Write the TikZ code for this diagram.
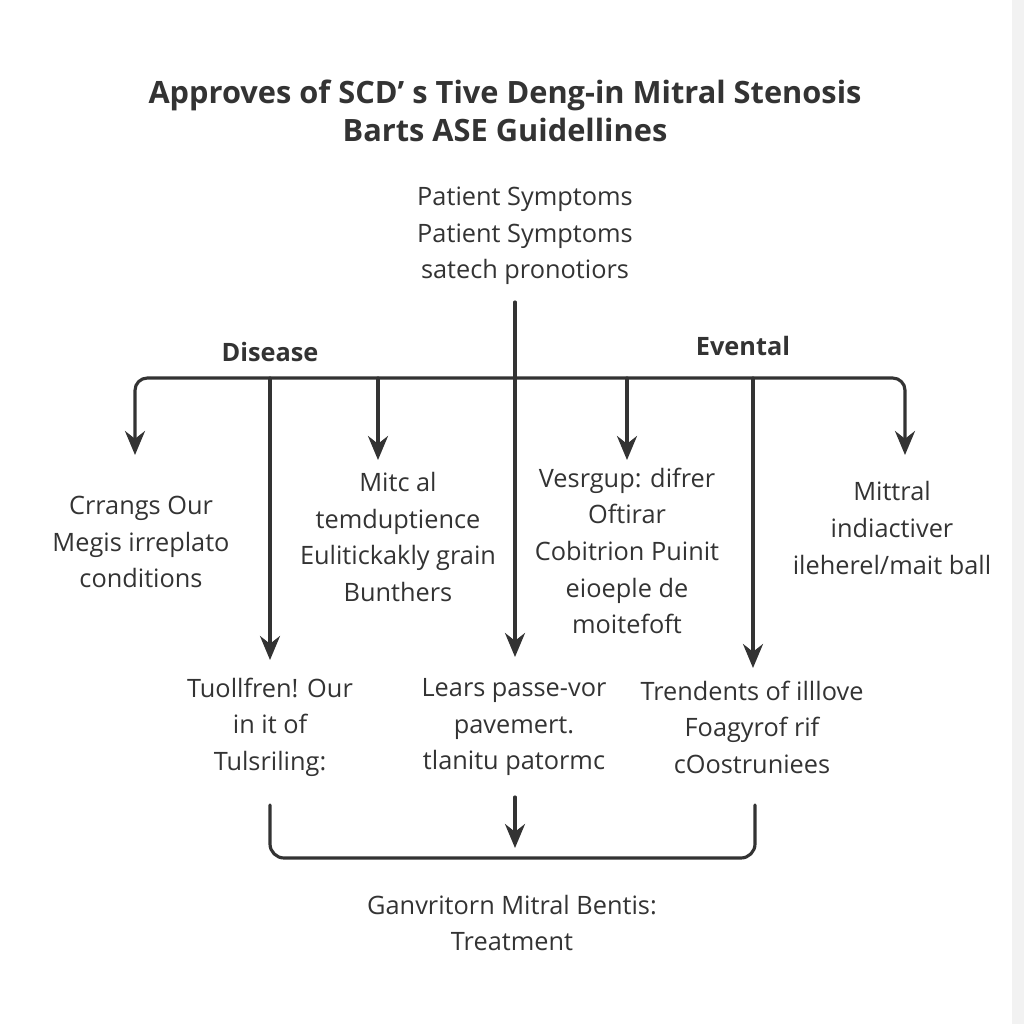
\documentclass[tikz,border=0pt]{standalone}
\usepackage{fontspec}
\setmainfont{Open Sans}
\usetikzlibrary{arrows.meta}
\definecolor{ink}{HTML}{333333}
\begin{document}
\begin{tikzpicture}[x=0.01cm,y=-0.01cm,line join=round,line cap=round,>={Stealth[length=2.4mm,width=2mm]}]
	\tikzset{every node/.style={text=ink},
		txt/.style={align=center,font=\fontsize{7.2}{10.4}\selectfont},
		hd/.style={font=\fontsize{7.2}{10.4}\selectfont\bfseries},
		ttl/.style={align=center,font=\fontsize{8.75}{11}\selectfont\bfseries},
		ln/.style={draw=ink,line width=0.9pt}}
	\useasboundingbox (0,0) rectangle (1024,1024);
	\fill[gray!10] (1012,0) rectangle (1024,1024);
	% title
	\node[ttl] (title) at (505,111) {Approves of SCD' s Tive Deng-in Mitral Stenosis\\Barts ASE Guidellines};
	\node[txt] (symp) at (525,236) {Patient Symptoms\\Patient Symptoms\\satech pronotiors};
	\node[hd] (dis) at (270,352) {Disease};
	\node[hd] (evt) at (743,346) {Evental};
	% middle row
	\node[txt] (mid1) at (141,542) {Crrangs Our\\Megis irreplato\\conditions};
	\node[txt] (mid2) at (398,537) {Mitc al\\temduptience\\Eulitickakly grain\\Bunthers};
	\node[txt] (mid3) at (627,551) {Vesrgup: difrer\\Oftirar\\Cobitrion Puinit\\eioeple de\\moitefoft};
	\node[txt] (mid4) at (892,528) {Mittral\\indiactiver\\ileherel/mait ball};
	% bottom row
	\node[txt] (low1) at (270,727) {Tuollfren! Our\\in it of\\Tulsriling:};
	\node[txt] (low2) at (514,727) {Lears passe-vor\\pavemert.\\tlanitu patormc};
	\node[txt] (low3) at (752,727) {Trendents of illlove\\Foagyrof rif\\cOostruniees};
	\node[txt] (treat) at (512,923) {Ganvritorn Mitral Bentis:\\Treatment};
	% connectors
	\coordinate (top) at (515,302);
	\coordinate (hub) at (515,378);
	\coordinate (t1) at (135,455);
	\coordinate (t2) at (270,660);
	\coordinate (t3) at (378,460);
	\coordinate (t4) at (515,657);
	\coordinate (t5) at (627,460);
	\coordinate (t6) at (753,668);
	\coordinate (t7) at (905,455);
	\draw[ln,->,rounded corners=3.5pt] (hub) -- (135,378) -- (t1);
	\draw[ln,->,rounded corners=3.5pt] (hub) -- (905,378) -- (t7);
	\draw[ln,->] (top) -- (t4);
	\foreach \t in {t2,t3,t5,t6}
	\draw[ln,->] (\t |- hub) -- (\t);
	\coordinate (b1) at (270,805);
	\coordinate (b2) at (755,805);
	\coordinate (s1) at (515,797);
	\coordinate (s2) at (515,848);
	\draw[ln,rounded corners=4pt] (b1) -- (270,858) -- (755,858) -- (b2);
	\draw[ln,->] (s1) -- (s2);
\end{tikzpicture}
\end{document}
